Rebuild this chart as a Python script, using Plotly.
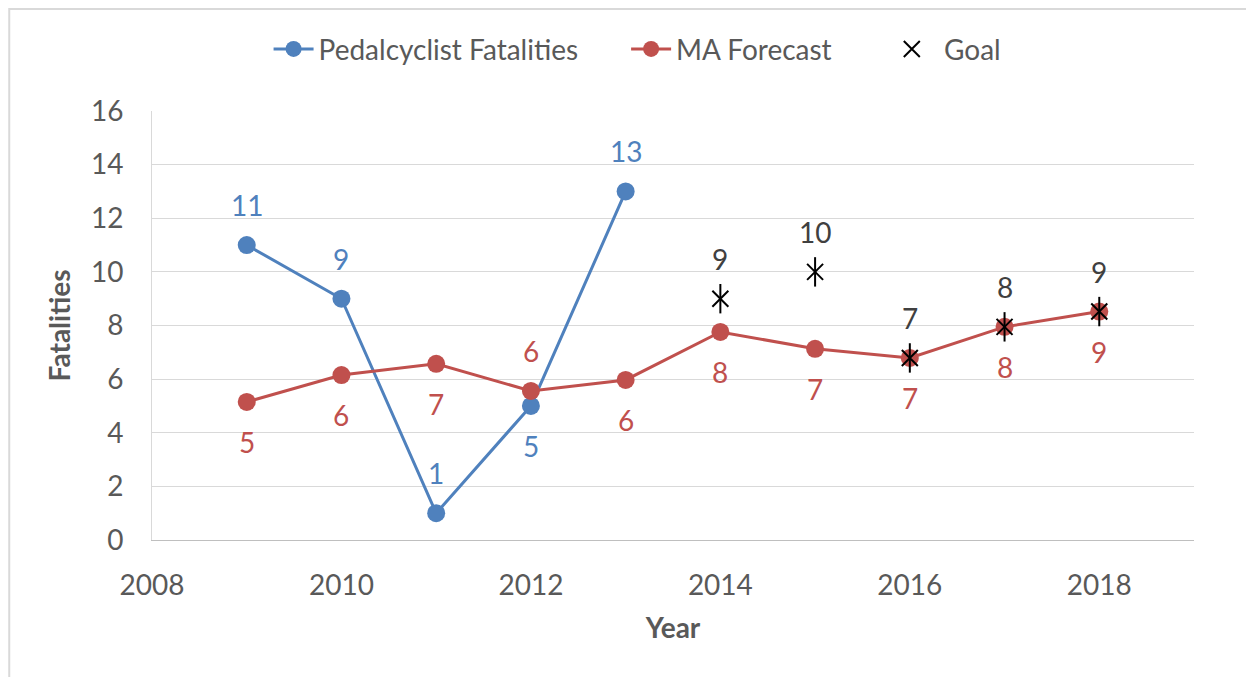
import plotly.graph_objects as go

years_ped = [2009, 2010, 2011, 2012, 2013]
ped = [11, 9, 1, 5, 13]
ped_label_above = [True, True, True, False, True]
years_ma = [2009, 2010, 2011, 2012, 2013, 2014, 2015, 2016, 2017, 2018]
ma = [5.15, 6.15, 6.57, 5.56, 5.97, 7.76, 7.13, 6.79, 7.95, 8.52]
ma_label_above = [False, False, False, True, False, False, False, False, False, False]
years_goal = [2014, 2015, 2016, 2017, 2018]
goal = [9, 10, 6.79, 7.95, 8.52]

BLUE = "#4F81BD"
RED = "#C0504D"
FONT = "Lato"
FS = 28
PAD = "\u00a0" * 6

fig = go.Figure()
fig.add_trace(go.Scatter(x=years_ped, y=ped, mode="lines+markers", name="Pedalcyclist Fatalities" + PAD,
                         line=dict(color=BLUE, width=3), marker=dict(size=18, color=BLUE)))
fig.add_trace(go.Scatter(x=years_ma, y=ma, mode="lines+markers", name="MA Forecast" + PAD + "\u00a0",
                         line=dict(color=RED, width=3), marker=dict(size=18, color=RED)))
fig.add_trace(go.Scatter(x=years_goal, y=goal, mode="markers", name="\u00a0Goal", legendgroup="g",
                         marker=dict(symbol="x-thin", size=16, line=dict(color="black", width=2))))
fig.add_trace(go.Scatter(x=years_goal, y=goal, mode="markers", showlegend=False, legendgroup="g",
                         marker=dict(symbol="line-ns", size=21, line=dict(color="black", width=2))))

ann = []
for x, y, up in zip(years_ped, ped, ped_label_above):
    ann.append(dict(x=x, y=y, text=f"{y:.0f}", showarrow=False, yshift=40 if up else -40,
                    font=dict(color=BLUE, size=FS, family=FONT)))
for x, y, up in zip(years_ma, ma, ma_label_above):
    ann.append(dict(x=x, y=y, text=f"{round(y):.0f}", showarrow=False, yshift=40 if up else -40,
                    font=dict(color=RED, size=FS, family=FONT)))
for x, y in zip(years_goal, goal):
    ann.append(dict(x=x, y=y, text=f"{round(y):.0f}", showarrow=False, yshift=40,
                    font=dict(color="#404040", size=FS, family=FONT)))

fig.update_layout(
    width=1247, height=670,
    margin=dict(l=144, r=61, t=103, b=138),
    paper_bgcolor="white", plot_bgcolor="white",
    font=dict(family=FONT, size=FS, color="#595959"),
    annotations=ann,
    legend=dict(orientation="h", x=0.466, xanchor="center", y=1.144, yanchor="middle",
                font=dict(size=FS, color="#595959"), itemwidth=40),
    xaxis=dict(range=[2008, 2019], dtick=2, tick0=2008, showgrid=False, zeroline=False,
               showline=True, linecolor="#bfbfbf", linewidth=1, ticks="", ticklabelstandoff=20,
               title=dict(text="<b>Year</b>", font=dict(size=FS, color="#595959"), standoff=18),
               tickfont=dict(size=FS, color="#595959")),
    yaxis=dict(range=[0, 16], dtick=2, showgrid=True, gridcolor="#d9d9d9", gridwidth=1, zeroline=False,
               showline=True, linecolor="#d9d9d9", linewidth=1, ticks="", ticklabelstandoff=22,
               title=dict(text="<b>Fatalities</b>", font=dict(size=FS, color="#595959"), standoff=12),
               tickfont=dict(size=FS, color="#595959")),
    shapes=[dict(type="rect", xref="paper", yref="paper", x0=-0.137, x1=1.0547, y0=-0.5, y1=1.2378,
                 line=dict(color="#d9d9d9", width=2), fillcolor="rgba(0,0,0,0)", layer="below")],
)
fig.write_html("out.html")
